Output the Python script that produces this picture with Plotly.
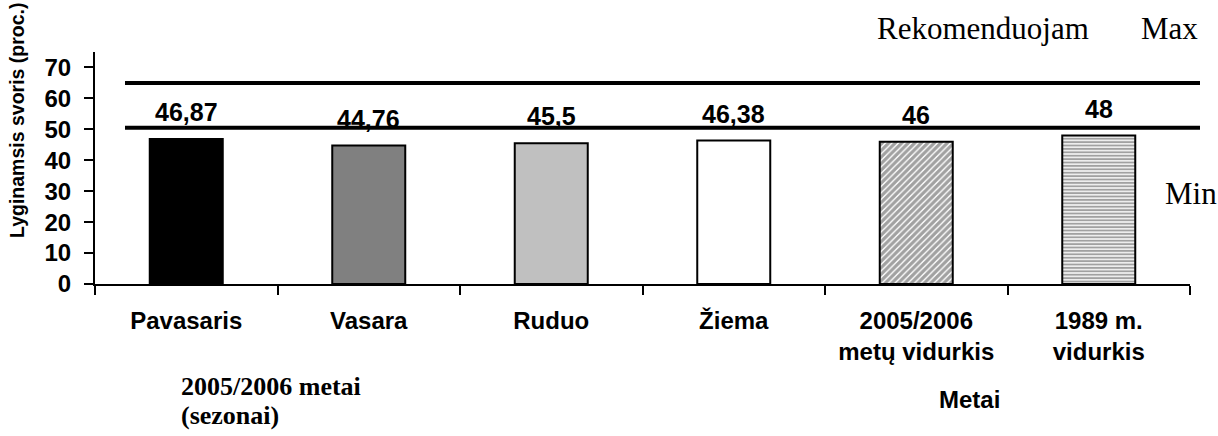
import plotly.graph_objects as go

# Data
categories = ["Pavasaris", "Vasara", "Ruduo", "Žiema",
              "2005/2006<br>metų vidurkis", "1989 m.<br>vidurkis"]
values = [46.87, 44.76, 45.5, 46.38, 46, 48]
value_labels = [f"{v:g}".replace(".", ",") for v in values]
recommended_max = 65
recommended_min = 50.5
y_ticks = [0, 10, 20, 30, 40, 50, 60, 70]

# Styling
fills = ["#000000", "#808080", "#c0c0c0", "#ffffff", "#ffffff", "#ffffff"]
patterns = ["", "", "", "", "/", "-"]
pattern_sizes = [5, 5, 5, 5, 4.6, 3.4]
pattern_solidity = [0.7, 0.7, 0.7, 0.7, 0.7, 0.6]

W, H = 1218, 436
ML, MR, MT, MB = 95, 28, 52, 152
PW, PH = W - ML - MR, H - MT - MB
Y_MAX = 75

SANS = "Liberation Sans, Arial, sans-serif"
SERIF = "Liberation Serif, Times New Roman, serif"


def px_x(x):
    return (x - ML) / PW


def px_y(y):
    return (H - MB - y) / PH


fig = go.Figure()
fig.add_trace(go.Bar(
    x=categories,
    y=values,
    width=0.4,
    marker=dict(
        color=fills,
        line=dict(color="black", width=2),
        pattern=dict(shape=patterns, size=pattern_sizes, solidity=pattern_solidity,
                     fgcolor="black", fillmode="overlay"),
    ),
    hoverinfo="skip",
))

annotations = []
for cat, v, lab in zip(categories, values, value_labels):
    annotations.append(dict(
        x=cat, y=v, xref="x", yref="y", text=f"<b>{lab}</b>", showarrow=False,
        yanchor="middle", yshift=27, font=dict(family=SANS, size=25, color="black"),
    ))

# Axis title and side notes
annotations += [
    dict(x=px_x(17), y=px_y(120), xref="paper", yref="paper",
         text="<b>Lyginamsis svoris (proc.)</b>", textangle=-90, showarrow=False,
         xanchor="center", yanchor="middle", font=dict(family=SANS, size=19.5, color="black")),
    dict(x=px_x(179), y=px_y(386), xref="paper", yref="paper",
         text="<b>2005/2006 metai</b>", showarrow=False, xanchor="left", yanchor="middle",
         font=dict(family=SERIF, size=26, color="black")),
    dict(x=px_x(179), y=px_y(415), xref="paper", yref="paper",
         text="<b>(sezonai)</b>", showarrow=False, xanchor="left", yanchor="middle",
         font=dict(family=SERIF, size=26, color="black")),
    dict(x=px_x(969), y=px_y(399), xref="paper", yref="paper",
         text="<b>Metai</b>", showarrow=False, xanchor="center", yanchor="middle",
         font=dict(family=SANS, size=24, color="black")),
    dict(x=px_x(875), y=px_y(28), xref="paper", yref="paper",
         text="Rekomenduojam", showarrow=False, xanchor="left", yanchor="middle",
         font=dict(family=SERIF, size=31, color="black")),
    dict(x=px_x(1139), y=px_y(28), xref="paper", yref="paper",
         text="Max", showarrow=False, xanchor="left", yanchor="middle",
         font=dict(family=SERIF, size=31, color="black")),
    dict(x=px_x(1163), y=px_y(193), xref="paper", yref="paper",
         text="Min", showarrow=False, xanchor="left", yanchor="middle",
         font=dict(family=SERIF, size=31, color="black")),
]

# Recommended range lines
shapes = []
for level in (recommended_max, recommended_min):
    shapes.append(dict(
        type="line", xref="paper", yref="paper",
        x0=px_x(125), x1=px_x(1200), y0=level / Y_MAX, y1=level / Y_MAX,
        line=dict(color="black", width=4), layer="above",
    ))

fig.update_layout(
    width=W, height=H,
    margin=dict(l=ML, r=MR, t=MT, b=MB, pad=0),
    paper_bgcolor="white", plot_bgcolor="white",
    showlegend=False,
    bargap=0.6,
    annotations=annotations,
    shapes=shapes,
    font=dict(family=SANS, color="black"),
    xaxis=dict(
        type="category", range=[-0.5, 5.5], tickson="boundaries",
        ticks="outside", ticklen=9, tickwidth=2, tickcolor="black",
        showline=True, linecolor="black", linewidth=2, showgrid=False,
        tickfont=dict(family=SANS, size=24, color="black", weight="bold"),
        ticklabelstandoff=14,
    ),
    yaxis=dict(
        range=[0, Y_MAX], tickvals=y_ticks,
        ticks="outside", ticklen=9, tickwidth=2, tickcolor="black",
        showline=True, linecolor="black", linewidth=2, showgrid=False, zeroline=False,
        tickfont=dict(family=SANS, size=24, color="black", weight="bold"),
        ticklabelstandoff=8,
    ),
)

fig.write_html("out.html")
